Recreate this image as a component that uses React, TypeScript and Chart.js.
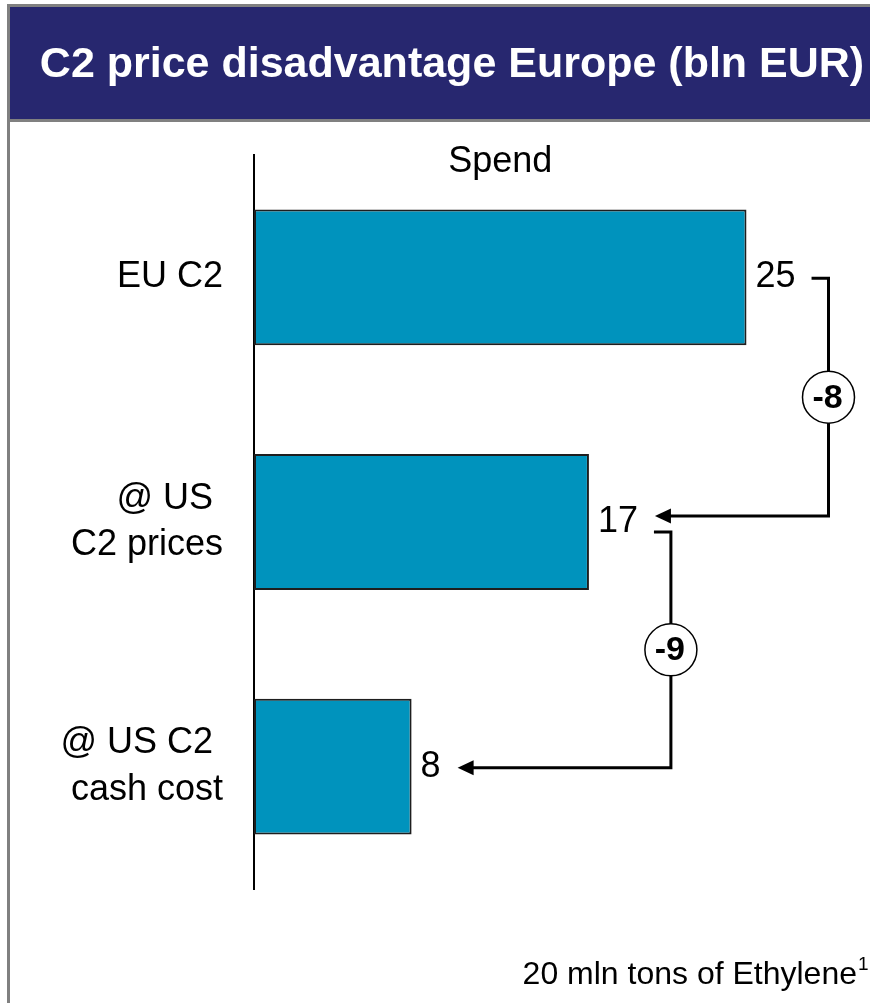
import React, { useEffect, useRef } from "react";
import { Chart, registerables } from "chart.js";

Chart.register(...registerables);

const TITLE = "C2 price disadvantage Europe (bln EUR)";
const HEADER = "Spend";
const FOOTNOTE = "20 mln tons of Ethylene";
const FOOTNOTE_SUP = "1";
const categories: string[][] = [["EU C2"], ["@ US ", "C2 prices"], ["@ US C2 ", "cash cost"]];
const spend = [25, 17, 8];
const deltaLabels = ["-8", "-9"];

const W = 870;
const H = 1003;
const FONT = '"Liberation Sans", Arial, Helvetica, sans-serif';
const BAR_COLOR = "#0093bd";
const NAVY = "#27276f";
const GREY = "#808080";

const decor = {
  id: "decor",
  beforeDraw(chart: any) {
    const ctx = chart.ctx as CanvasRenderingContext2D;
    ctx.save();
    ctx.fillStyle = "#ffffff";
    ctx.fillRect(0, 0, W, H);
    ctx.fillStyle = GREY;
    ctx.fillRect(7, 4, W - 7, 3);
    ctx.fillRect(7, 4, 3, H - 4);
    ctx.fillStyle = NAVY;
    ctx.fillRect(10, 7, W - 10, 112);
    ctx.fillStyle = GREY;
    ctx.fillRect(10, 119, W - 10, 3);
    ctx.fillStyle = "#ffffff";
    ctx.font = `bold 43px ${FONT}`;
    ctx.textAlign = "center";
    ctx.textBaseline = "middle";
    ctx.fillText(TITLE, 452, 65);

    const xs = chart.scales.x;
    ctx.fillStyle = "#000";
    ctx.font = `36px ${FONT}`;
    ctx.fillText(HEADER, xs.getPixelForValue(Math.max(...spend) / 2), 162);

    ctx.textAlign = "right";
    ctx.textBaseline = "alphabetic";
    ctx.font = `32px ${FONT}`;
    ctx.fillText(FOOTNOTE, 857, 984);
    ctx.textAlign = "left";
    ctx.font = `19px ${FONT}`;
    ctx.fillText(FOOTNOTE_SUP, 858, 970);
    ctx.restore();
  },
};

const brackets = {
  id: "brackets",
  afterDatasetsDraw(chart: any) {
    const ctx = chart.ctx as CanvasRenderingContext2D;
    const meta = chart.getDatasetMeta(0);
    const xs = chart.scales.x;
    ctx.save();
    ctx.font = `36px ${FONT}`;
    ctx.fillStyle = "#000";
    ctx.textBaseline = "middle";
    ctx.textAlign = "left";
    const labelEnds: number[] = [];
    meta.data.forEach((bar: any, i: number) => {
      const t = String(spend[i]);
      const lx = bar.x + 9;
      ctx.fillText(t, lx, bar.y);
      labelEnds.push(lx + ctx.measureText(t).width);
    });
    deltaLabels.forEach((lab, i) => {
      const from = meta.data[i];
      const to = meta.data[i + 1];
      const vx = xs.getPixelForValue(spend[i]) + 82;
      const y1 = from.y + (i > 0 ? 10 : 1);
      const y2 = to.y + (i + 1 < deltaLabels.length ? -6 : 1);
      const sx = labelEnds[i] + 16;
      const tx = labelEnds[i + 1] + 17;
      ctx.strokeStyle = "#000";
      ctx.fillStyle = "#000";
      ctx.lineWidth = 3;
      ctx.lineJoin = "miter";
      ctx.beginPath();
      ctx.moveTo(sx, y1);
      ctx.lineTo(vx, y1);
      ctx.lineTo(vx, y2);
      ctx.lineTo(tx + 12, y2);
      ctx.stroke();
      ctx.beginPath();
      ctx.moveTo(tx, y2);
      ctx.lineTo(tx + 16, y2 - 7.5);
      ctx.lineTo(tx + 16, y2 + 7.5);
      ctx.closePath();
      ctx.fill();
      const cy = (y1 + y2) / 2;
      ctx.beginPath();
      ctx.arc(vx, cy, 26, 0, Math.PI * 2);
      ctx.fillStyle = "#fff";
      ctx.fill();
      ctx.lineWidth = 1.5;
      ctx.stroke();
      ctx.fillStyle = "#000";
      ctx.font = `bold 34px ${FONT}`;
      ctx.textAlign = "center";
      ctx.textBaseline = "middle";
      ctx.fillText(lab, vx - 1, cy + 1);
    });
    ctx.restore();
  },
};

export default function App() {
  const ref = useRef<HTMLCanvasElement | null>(null);
  useEffect(() => {
    if (!ref.current) return;
    const chart = new Chart(ref.current, {
      type: "bar",
      data: {
        labels: categories as any,
        datasets: [
          {
            data: spend,
            backgroundColor: BAR_COLOR,
            borderColor: "#1e1e1e",
            borderWidth: 2,
            borderSkipped: false,
            barPercentage: 0.555,
            categoryPercentage: 1,
          },
        ],
      },
      options: {
        indexAxis: "y",
        animation: false,
        responsive: false,
        devicePixelRatio: 1,
        layout: { padding: { left: 0, top: 155, right: 25, bottom: 114 } },
        plugins: { legend: { display: false }, title: { display: false }, tooltip: { enabled: false } },
        scales: {
          x: { display: false, min: 0, max: 30 },
          y: {
            afterFit: (scale: any) => {
              scale.width = 254;
            },
            grid: { display: false },
            border: { display: true, color: "#000", width: 2 },
            ticks: {
              color: "#000",
              padding: 23,
              font: { family: FONT, size: 36, lineHeight: 1.3 },
            },
          },
        },
      },
      plugins: [decor, brackets],
    });
    return () => chart.destroy();
  }, []);
  return (
    <div style={{ position: "absolute", left: 0, top: 0, width: W, height: H }}>
      <canvas ref={ref} width={W} height={H} style={{ display: "block", width: W, height: H }} />
    </div>
  );
}
